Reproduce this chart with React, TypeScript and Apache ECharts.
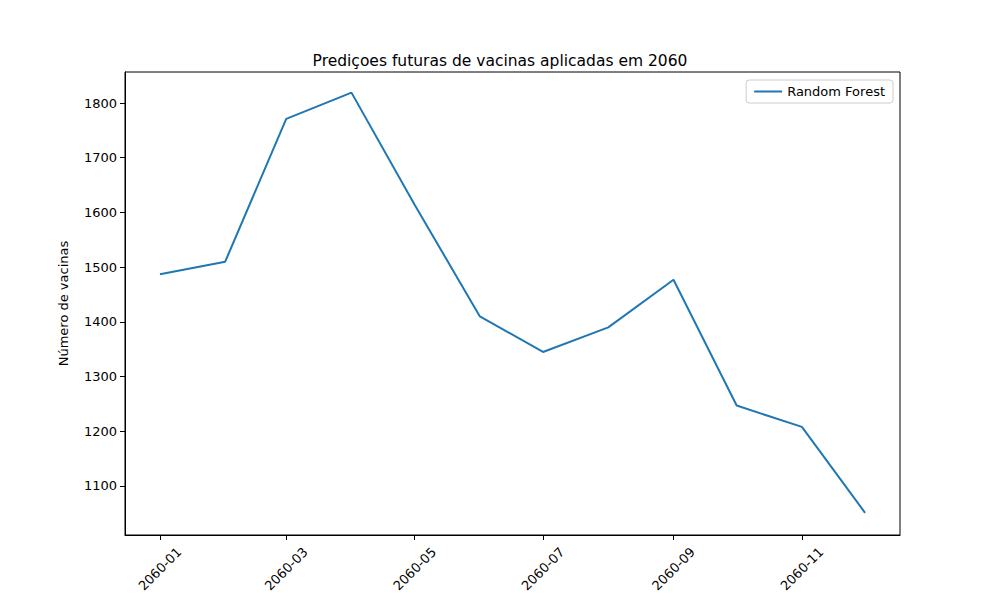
import { useEffect, useRef } from 'react';
import * as echarts from 'echarts';

// days since 2060-01-01 for each monthly prediction
const days = [0, 31, 60, 91, 121, 152, 182, 213, 244, 274, 305, 335];
const values = [1487, 1510, 1771, 1819, 1614, 1410, 1345, 1390, 1477, 1247, 1208, 1051];
const tickDays = [0, 60, 121, 182, 244, 305];
const tickLabels = ['2060-01', '2060-03', '2060-05', '2060-07', '2060-09', '2060-11'];
const yTicks = [1100, 1200, 1300, 1400, 1500, 1600, 1700, 1800];

const App = () => {
  const chartRef = useRef<HTMLDivElement>(null);

  useEffect(() => {
    if (!chartRef.current) return;
    document.body.style.margin = '0';
    const chart = echarts.init(chartRef.current, null, { renderer: 'svg' });
    const font = 'DejaVu Sans';

    chart.setOption({
      animation: false,
      textStyle: { fontFamily: font },
      title: {
        text: 'Prediçoes futuras de vacinas aplicadas em 2060',
        left: 'center',
        top: 48,
        textStyle: { fontSize: 15.5, fontWeight: 'normal', color: '#000', fontFamily: font },
      },
      legend: {
        right: 107,
        top: 80,
        padding: [5, 8, 5, 8],
        borderColor: '#ccc',
        borderWidth: 1,
        borderRadius: 3,
        itemWidth: 28,
        itemHeight: 2,
        icon: 'rect',
        textStyle: { fontSize: 13, color: '#000', fontFamily: font },
        data: ['Random Forest'],
      },
      grid: {
        left: 125, right: 100, top: 72, bottom: 65,
        show: true, borderColor: '#000', borderWidth: 1,
      },
      xAxis: {
        type: 'value',
        min: -16.6,
        max: 351.6,
        splitLine: { show: false },
        axisLine: { show: true, onZero: false, lineStyle: { color: '#000' } },
        axisTick: { show: true, customValues: tickDays, length: 5, lineStyle: { color: '#000' } },
        axisLabel: {
          customValues: tickDays,
          rotate: 45,
          align: 'center',
          verticalAlign: 'middle',
          fontSize: 13,
          color: '#000',
          margin: 34,
          formatter: (v: number) => tickLabels[tickDays.indexOf(v)] ?? '',
        },
      },
      yAxis: {
        type: 'value',
        min: 1010.4,
        max: 1856.7,
        name: 'Número de vacinas',
        nameLocation: 'middle',
        nameGap: 55,
        nameTextStyle: { fontSize: 13, color: '#000' },
        splitLine: { show: false },
        axisLine: { show: true, onZero: false, lineStyle: { color: '#000' } },
        axisTick: { show: true, customValues: yTicks, length: 5, lineStyle: { color: '#000' } },
        axisLabel: { customValues: yTicks, fontSize: 13, color: '#000', formatter: (v: number) => String(v) },
      },
      series: [
        {
          name: 'Random Forest',
          type: 'line',
          data: days.map((d, i) => [d, values[i]]),
          showSymbol: false,
          lineStyle: { color: '#1f77b4', width: 2 },
          itemStyle: { color: '#1f77b4' },
        },
      ],
    });

    return () => chart.dispose();
  }, []);

  return <div ref={chartRef} style={{ width: 1000, height: 600 }} />;
};

export default App;
